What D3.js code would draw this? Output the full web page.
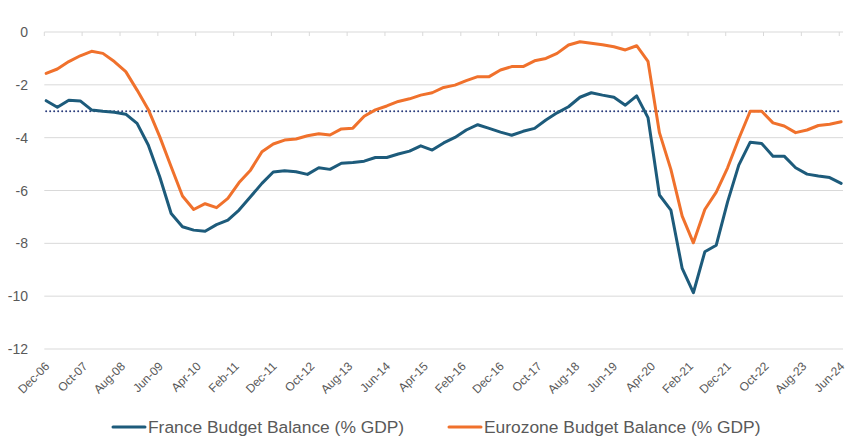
<!DOCTYPE html>
<html>
<head>
<meta charset="utf-8">
<script src="https://cdn.jsdelivr.net/npm/d3@7"></script>
<style>
  html, body { margin: 0; padding: 0; background: #fff; }
  svg { display: block; }
</style>
</head>
<body>
<svg id="chart" width="862" height="447"></svg>
<script>
// ---- Data (quarterly, Dec-06 .. Jun-24) ----
const startQuarter = new Date(2006, 11, 1);
const quarterCount = 71;

const franceBalance = [
  -2.60, -2.85, -2.58, -2.61, -2.95, -3.00, -3.04, -3.11, -3.46, -4.28,
  -5.48, -6.87, -7.37, -7.50, -7.54, -7.29, -7.12, -6.74, -6.24, -5.73,
  -5.30, -5.25, -5.29, -5.39, -5.14, -5.20, -4.97, -4.94, -4.89, -4.75,
  -4.75, -4.62, -4.51, -4.31, -4.47, -4.20, -3.99, -3.71, -3.51, -3.65,
  -3.79, -3.91, -3.76, -3.65, -3.33, -3.06, -2.83, -2.47, -2.30, -2.39,
  -2.47, -2.77, -2.42, -3.24, -6.17, -6.74, -8.95, -9.87, -8.32, -8.07,
  -6.43, -5.04, -4.17, -4.22, -4.70, -4.70, -5.14, -5.38, -5.45, -5.51,
  -5.73
];

const eurozoneBalance = [
  -1.57, -1.40, -1.12, -0.90, -0.73, -0.81, -1.12, -1.50, -2.20, -2.93,
  -3.96, -5.10, -6.21, -6.72, -6.50, -6.65, -6.30, -5.70, -5.23, -4.53,
  -4.24, -4.09, -4.05, -3.93, -3.85, -3.90, -3.67, -3.64, -3.19, -2.95,
  -2.80, -2.63, -2.53, -2.39, -2.30, -2.10, -2.01, -1.84, -1.69, -1.69,
  -1.44, -1.31, -1.31, -1.09, -1.00, -0.81, -0.49, -0.37, -0.43, -0.48,
  -0.56, -0.68, -0.52, -1.11, -3.81, -5.20, -6.97, -7.98, -6.72, -6.06,
  -5.14, -4.04, -3.00, -3.00, -3.44, -3.56, -3.81, -3.71, -3.54, -3.49,
  -3.40
];

const thresholdValue = -3;

const yTickValues = [0, -2, -4, -6, -8, -10, -12];
const xTickLabels = [
  "Dec-06", "Oct-07", "Aug-08", "Jun-09", "Apr-10", "Feb-11", "Dec-11",
  "Oct-12", "Aug-13", "Jun-14", "Apr-15", "Feb-16", "Dec-16", "Oct-17",
  "Aug-18", "Jun-19", "Apr-20", "Feb-21", "Dec-21", "Oct-22", "Aug-23", "Jun-24"
];

const seriesNames = ["France Budget Balance (% GDP)", "Eurozone Budget Balance (% GDP)"];
const seriesColors = ["#1d5b7b", "#f0712c"];

// ---- Build dates ----
const parseLabel = d3.timeParse("%b-%y");
const tickDates = xTickLabels.map(parseLabel);
// points sit in the middle of their month slot
const pointDates = d3.range(quarterCount).map(i => {
  const m = d3.timeMonth.offset(startQuarter, 3 * i);
  return new Date(m.getFullYear(), m.getMonth(), 16);
});

// ---- Scales ----
const svg = d3.select("#chart");
const x = d3.scaleTime()
  .domain([new Date(2006, 11, 1), new Date(2024, 6, 1)])
  .range([44.3, 843]);
const y = d3.scaleLinear().domain([-12, 0]).range([349, 32]);

// ---- Gridlines ----
svg.append("g")
  .selectAll("line")
  .data(yTickValues)
  .join("line")
  .attr("x1", x.range()[0]).attr("x2", x.range()[1])
  .attr("y1", d => y(d)).attr("y2", d => y(d))
  .attr("stroke", "#d9d9d9").attr("stroke-width", 1);

// ---- Y axis labels ----
svg.append("g")
  .selectAll("text")
  .data(yTickValues)
  .join("text")
  .attr("x", 28)
  .attr("y", d => y(d))
  .attr("dy", "0.36em")
  .attr("text-anchor", "end")
  .attr("font-family", "Liberation Sans, Arial, sans-serif")
  .attr("font-size", 14)
  .attr("fill", "#595959")
  .text(d => d3.format("d")(d).replace("−", "-"));

// ---- X axis (at y=0) ticks ----
svg.append("g")
  .selectAll("line")
  .data(tickDates)
  .join("line")
  .attr("x1", d => x(d)).attr("x2", d => x(d))
  .attr("y1", y(0)).attr("y2", y(0) + 4)
  .attr("stroke", "#d9d9d9").attr("stroke-width", 1);

// ---- X labels (low position, rotated) ----
svg.append("g")
  .selectAll("text")
  .data(tickDates)
  .join("text")
  .attr("transform", d => `translate(${x(d) + 6},${y(-12) + 18}) rotate(-45)`)
  .attr("text-anchor", "end")
  .attr("font-family", "Liberation Sans, Arial, sans-serif")
  .attr("font-size", 12)
  .attr("fill", "#595959")
  .text((d, i) => xTickLabels[i]);

// ---- Threshold dotted line ----
const line = d3.line().x(d => x(d[0])).y(d => y(d[1]));
svg.append("path")
  .datum(pointDates.map(d => [d, thresholdValue]))
  .attr("d", line)
  .attr("fill", "none")
  .attr("stroke", "#2b3d7c")
  .attr("stroke-width", 2)
  .attr("stroke-linecap", "round")
  .attr("stroke-dasharray", "0 4");

// ---- Series lines ----
[franceBalance, eurozoneBalance].forEach((vals, si) => {
  svg.append("path")
    .datum(vals.map((v, i) => [pointDates[i], v]))
    .attr("d", line)
    .attr("fill", "none")
    .attr("stroke", seriesColors[si])
    .attr("stroke-width", 3)
    .attr("stroke-linejoin", "round")
    .attr("stroke-linecap", "round");
});

// ---- Legend ----
const legendX = [113, 449];
const legendY = 427;
seriesNames.forEach((name, i) => {
  const g = svg.append("g").attr("transform", `translate(${legendX[i]},${legendY})`);
  g.append("line")
    .attr("x1", 0).attr("x2", 32).attr("y1", 0).attr("y2", 0)
    .attr("stroke", seriesColors[i]).attr("stroke-width", 3)
    .attr("stroke-linecap", "round");
  g.append("text")
    .attr("x", 35).attr("y", 0).attr("dy", "0.35em")
    .attr("font-family", "Liberation Sans, Arial, sans-serif")
    .attr("font-size", 17.4)
    .attr("fill", "#595959")
    .text(name);
});
</script>
</body>
</html>
